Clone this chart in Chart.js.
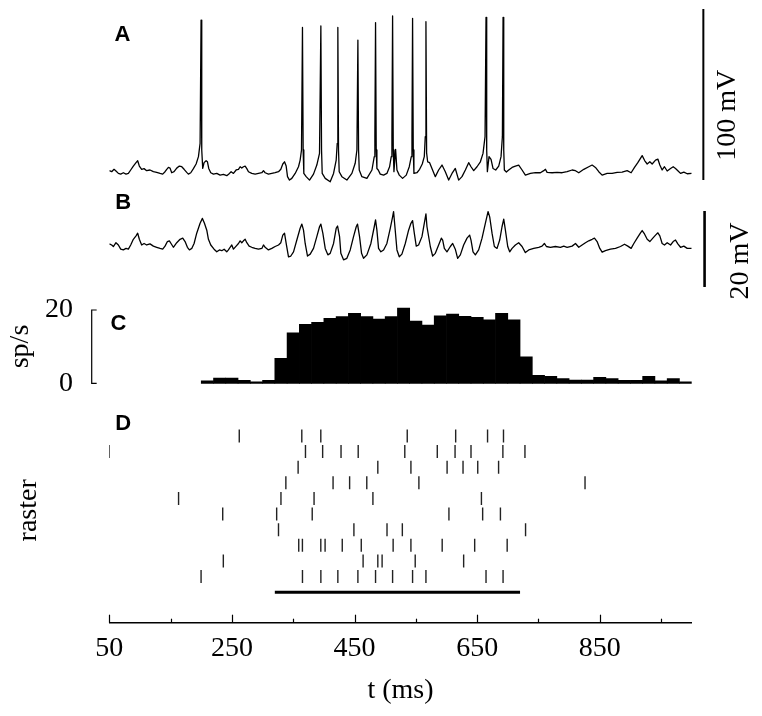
<!DOCTYPE html>
<html>
<head>
<meta charset="utf-8">
<script src="https://cdn.jsdelivr.net/npm/chart.js@4.4.1/dist/chart.umd.min.js"></script>
<style>
  body { margin: 0; background: #fff; }
  canvas { display: block; }
</style>
</head>
<body>
<canvas id="chart" width="762" height="716"></canvas>
<script>
// time axis (ms)
const xTicks = [50, 150, 250, 350, 450, 550, 650, 750, 850, 950];
const xLabels = [50, 250, 450, 650, 850];

// A: membrane potential with spikes
const aTime = [50.1, 53.9, 57.7, 60.9, 64.8, 68.6, 72.9, 77.3, 81.1, 84.9,
  89.2, 93.6, 96.3, 99.0, 102.8, 106.7, 111.0, 116.4, 121.9, 127.3,
  132.8, 137.1, 140.9, 143.7, 146.4, 149.1, 151.8, 155.6, 160.0, 164.3,
  168.2, 172.0, 176.3, 179.0, 182.9, 187.2, 191.6, 195.4, 198.1, 199.7,
  200.8, 202.4, 204.6, 207.9, 210.1, 212.2, 215.5, 219.9, 225.3, 230.7,
  236.2, 241.6, 246.0, 248.7, 252.5, 256.9, 260.7, 263.4, 266.1, 268.8,
  271.6, 274.3, 277.0, 282.4, 287.9, 293.3, 298.8, 301.5, 304.2, 309.6,
  315.1, 320.5, 326.0, 329.8, 333.0, 335.8, 338.5, 340.7, 343.9, 347.7,
  353.2, 358.6, 361.3, 363.5, 365.1, 366.2, 367.3, 371.1, 376.6, 383.1,
  388.5, 392.9, 395.1, 396.2, 397.3, 402.2, 410.3, 415.8, 420.1, 421.8,
  422.8, 423.9, 425.0, 429.4, 437.5, 445.7, 451.1, 453.9, 455.5, 456.6,
  457.7, 462.0, 470.2, 478.4, 482.2, 483.2, 484.3, 485.4, 486.5, 488.7,
  492.0, 497.4, 502.8, 507.2, 509.9, 511.0, 512.1, 513.2, 514.3, 517.0,
  519.2, 523.0, 528.4, 534.4, 539.3, 542.6, 543.7, 544.7, 545.8, 546.9,
  551.8, 556.2, 560.5, 563.8, 565.4, 566.5, 567.6, 569.3, 572.5, 576.3,
  581.8, 587.2, 592.7, 598.1, 603.6, 609.0, 614.4, 619.9, 625.3, 630.8,
  636.2, 640.0, 644.4, 649.8, 655.3, 659.6, 662.9, 664.5, 665.6, 666.7,
  669.4, 672.7, 675.9, 680.3, 685.2, 689.0, 691.2, 692.3, 693.4, 694.4,
  697.7, 701.5, 707.0, 712.4, 717.8, 723.3, 728.7, 736.9, 745.1, 753.2,
  758.7, 761.4, 764.1, 772.3, 780.4, 788.6, 796.8, 804.9, 810.4, 815.8,
  824.0, 832.1, 837.6, 843.0, 848.4, 853.9, 862.1, 870.2, 878.4, 886.5,
  894.7, 901.2, 906.7, 912.1, 919.2, 923.5, 927.4, 931.7, 935.5, 941.0,
  944.8, 948.0, 951.8, 955.6, 960.0, 965.5, 969.8, 973.6, 977.4, 981.8,
  987.2, 992.7, 1000.0];
const aVolt = [-65.4, -66.0, -64.6, -65.6, -67.0, -67.4, -66.6, -67.4, -67.0, -65.0,
  -62.7, -60.7, -59.6, -62.7, -64.6, -64.2, -65.4, -65.0, -66.0, -66.4,
  -67.0, -67.4, -66.0, -64.6, -63.5, -63.9, -66.6, -66.0, -63.9, -62.7,
  -63.1, -64.6, -66.4, -67.4, -66.6, -64.2, -61.5, -57.2, -49.4, 22.7,
  -53.3, -64.1, -60.7, -59.6, -60.2, -64.1, -66.6, -67.4, -67.0, -68.0,
  -67.6, -68.3, -67.0, -66.0, -67.0, -65.0, -64.6, -63.1, -63.9, -63.1,
  -62.7, -64.2, -66.0, -67.0, -67.4, -67.0, -66.6, -65.4, -66.6, -67.4,
  -67.0, -66.6, -66.0, -64.6, -61.5, -60.2, -62.7, -68.9, -70.9, -69.9,
  -67.0, -63.1, -59.2, -53.3, 18.4, -53.3, -67.0, -68.9, -70.9, -67.4,
  -62.1, -55.3, 19.2, -53.3, -67.0, -69.9, -71.9, -67.0, -59.2, -49.4,
  18.4, -53.3, -66.0, -68.9, -70.9, -67.0, -61.1, -53.3, 11.0, -53.3,
  -65.0, -68.9, -69.9, -65.0, -57.2, -45.5, 21.2, -53.3, -64.1, -65.0,
  -67.4, -68.0, -67.0, -63.1, -57.2, -45.5, 25.1, -53.3, -66.0, -52.9,
  -65.0, -68.0, -69.9, -68.0, -63.1, -57.2, -45.5, 23.7, -53.3, -67.0,
  -66.6, -64.6, -61.5, -57.2, -45.5, 21.7, -55.0, -60.2, -60.7, -64.1,
  -68.9, -65.0, -62.1, -66.0, -70.9, -67.0, -64.1, -70.9, -68.9, -65.0,
  -60.7, -63.1, -65.4, -63.1, -60.2, -55.3, -45.5, 24.3, -53.3, -66.0,
  -57.2, -58.8, -64.1, -65.0, -62.7, -57.2, -45.5, 24.3, -53.3, -65.0,
  -66.2, -65.0, -63.5, -62.7, -62.1, -65.0, -68.0, -67.0, -66.6, -66.6,
  -65.4, -64.6, -66.4, -66.6, -66.4, -66.6, -66.0, -65.0, -65.4, -66.6,
  -64.6, -63.1, -62.1, -63.5, -66.0, -68.0, -67.0, -67.0, -66.4, -66.2,
  -65.4, -66.6, -63.5, -60.7, -56.6, -59.6, -61.5, -60.2, -61.5, -59.2,
  -58.6, -62.1, -65.0, -63.1, -65.6, -64.1, -63.1, -64.1, -65.4, -67.0,
  -66.2, -67.2, -67.0];

// B: subthreshold potential
const bTime = [50.1, 53.9, 56.6, 60.9, 64.8, 68.6, 72.9, 77.3, 81.1, 84.9,
  89.2, 93.6, 96.3, 99.0, 102.8, 106.7, 111.0, 116.4, 121.9, 127.3,
  132.8, 137.1, 140.9, 144.8, 148.0, 150.7, 154.5, 160.0, 165.4, 169.8,
  173.6, 177.4, 180.7, 184.5, 188.3, 192.6, 198.1, 201.9, 205.2, 209.0,
  211.7, 215.5, 220.9, 225.3, 229.6, 233.5, 237.3, 241.6, 244.3, 247.1,
  249.8, 252.5, 256.9, 260.7, 263.4, 266.1, 268.8, 271.6, 274.3, 278.1,
  282.4, 287.9, 293.3, 298.8, 301.5, 304.2, 309.6, 315.1, 320.5, 326.0,
  329.8, 333.0, 335.8, 338.5, 342.3, 346.1, 350.5, 355.9, 361.3, 364.1,
  366.8, 369.5, 373.3, 377.7, 383.1, 388.5, 392.9, 395.1, 398.3, 402.2,
  406.5, 410.3, 415.8, 420.1, 422.3, 425.6, 427.7, 432.1, 437.5, 443.0,
  448.4, 452.8, 454.9, 458.2, 461.5, 464.7, 470.2, 476.7, 482.2, 484.3,
  486.5, 489.2, 493.0, 497.4, 502.8, 508.3, 512.1, 513.7, 515.9, 519.2,
  523.0, 527.3, 532.8, 538.2, 542.0, 544.7, 547.5, 550.7, 554.5, 560.0,
  563.8, 566.5, 568.2, 573.6, 577.4, 581.8, 587.2, 591.6, 593.8, 596.5,
  600.8, 606.3, 610.1, 614.4, 618.2, 622.6, 628.0, 633.5, 637.8, 640.0,
  643.3, 647.1, 652.5, 658.0, 663.4, 667.8, 670.5, 674.3, 678.1, 682.5,
  686.8, 690.6, 693.4, 696.1, 699.9, 703.1, 707.0, 712.4, 717.8, 723.3,
  728.7, 734.2, 742.3, 750.5, 755.9, 759.7, 763.0, 769.5, 777.7, 785.9,
  791.3, 796.8, 804.9, 810.4, 815.8, 821.2, 826.7, 832.1, 837.6, 841.4,
  845.7, 850.1, 853.9, 859.3, 867.5, 875.7, 883.8, 890.4, 895.8, 901.2,
  905.6, 911.0, 916.5, 919.2, 923.0, 927.4, 931.7, 936.6, 941.0, 944.8,
  948.0, 951.8, 955.6, 960.0, 965.5, 969.8, 973.6, 977.4, 981.8, 987.2,
  992.7, 1000.0];
const bVolt = [-64.7, -65.0, -65.4, -64.4, -65.0, -66.1, -66.3, -65.9, -66.1, -65.0,
  -63.5, -62.6, -61.9, -63.5, -65.0, -64.6, -65.0, -64.7, -65.3, -65.6,
  -65.9, -66.1, -65.3, -64.1, -63.9, -64.6, -65.6, -64.4, -63.5, -63.2,
  -64.1, -65.6, -66.3, -65.9, -64.6, -61.9, -59.3, -58.0, -59.3, -61.1,
  -63.5, -65.0, -66.1, -66.8, -66.3, -66.5, -66.1, -66.8, -66.3, -65.6,
  -65.0, -66.1, -65.3, -64.6, -63.9, -64.4, -63.9, -63.5, -64.4, -65.3,
  -65.6, -65.9, -66.1, -65.9, -65.0, -65.6, -66.3, -65.9, -65.4, -65.0,
  -64.4, -62.4, -61.9, -64.6, -68.1, -67.9, -66.8, -63.7, -60.6, -59.5,
  -61.1, -64.6, -67.9, -67.4, -65.9, -62.8, -60.2, -59.5, -61.9, -65.9,
  -67.6, -67.2, -64.6, -60.6, -60.0, -62.8, -67.2, -68.9, -68.5, -66.3,
  -62.8, -60.2, -59.5, -62.8, -67.2, -68.5, -67.6, -64.6, -60.2, -58.4,
  -61.1, -65.9, -66.8, -66.3, -64.6, -60.6, -57.6, -56.2, -60.2, -66.3,
  -68.1, -67.4, -64.6, -61.1, -59.3, -58.6, -61.9, -65.3, -65.0, -62.8,
  -59.3, -56.8, -60.2, -65.4, -67.9, -67.2, -65.0, -63.2, -63.7, -65.9,
  -66.8, -65.4, -64.6, -66.1, -68.5, -67.6, -65.0, -63.2, -62.4, -63.7,
  -66.8, -67.6, -66.3, -63.2, -59.3, -56.2, -57.6, -61.9, -65.4, -65.9,
  -63.7, -60.2, -58.2, -61.1, -65.4, -66.8, -65.9, -65.0, -64.4, -65.4,
  -67.0, -66.3, -65.9, -65.6, -65.3, -64.6, -65.4, -65.6, -65.4, -65.6,
  -65.3, -65.6, -65.3, -64.6, -65.6, -65.0, -64.4, -63.9, -63.5, -63.2,
  -64.1, -65.9, -66.9, -66.5, -66.1, -65.9, -65.4, -64.8, -65.3, -65.9,
  -64.6, -63.2, -61.8, -61.2, -62.1, -63.5, -64.1, -63.2, -62.4, -61.8,
  -62.6, -64.6, -65.0, -64.4, -65.0, -64.1, -63.7, -64.7, -65.6, -65.3,
  -65.9, -65.9];

// C: firing rate, 20 ms bins (start of bin)
const binStart = [200, 220, 240, 260, 280, 300, 320, 340, 360, 380,
  400, 420, 440, 460, 480, 500, 520, 540, 560, 580,
  600, 620, 640, 660, 680, 700, 720, 740, 760, 780,
  800, 820, 840, 860, 880, 900, 920, 940, 960, 980];
const rate = [0.7, 1.4, 1.4, 0.8, 0.4, 0.8, 6.8, 13.8, 16.1, 16.6,
  17.7, 18.2, 19.1, 18.2, 17.5, 18.2, 20.5, 17.0, 15.9, 18.4,
  18.9, 18.3, 18.0, 17.3, 19.1, 17.3, 7.2, 2.2, 1.9, 1.3,
  0.9, 0.9, 1.6, 1.3, 0.8, 0.8, 1.9, 0.7, 1.3, 0.4];

// D: spike times per trial
const raster = [
  [262, 364, 395, 536, 615, 667, 693],
  [50, 370, 398, 428, 456, 532, 585, 614, 640, 692, 728],
  [358, 488, 542, 601, 627, 651, 685],
  [338, 415, 442, 470, 555, 826],
  [163, 330, 384, 480, 657],
  [235, 323, 381, 604, 659, 688],
  [326, 449, 503, 528, 729],
  [359, 365, 395, 402, 430, 461, 513, 542, 593, 646, 699],
  [236, 464, 488, 495, 549, 628],
  [199.7, 365.1, 395.1, 422.8, 455.5, 484.3, 512.1, 544.7, 566.5, 664.5, 692.3]
];
const stimulus = [320, 720];

const serif = '"Liberation Serif", "Times New Roman", serif';
const sans = '"Liberation Sans", Arial, sans-serif';
const plotLeft = 109.3;

function pairs(xs, ys) {
  return xs.map((t, i) => ({ x: t, y: ys[i] }));
}

const rasterPoints = [];
raster.forEach((row, i) => row.forEach(t => rasterPoints.push({ x: t, y: i + 1 })));

// scale bars, bracket, letters and tick marks
const decor = {
  id: 'decor',
  afterDraw(chart) {
    const { ctx, chartArea, scales } = chart;
    const x = scales.x, yA = scales.yA, yB = scales.yB, yC = scales.yC, yD = scales.yD;
    ctx.save();
    ctx.strokeStyle = '#000';
    ctx.fillStyle = '#000';

    // ticks pointing up from the time axis
    ctx.lineWidth = 1.2;
    xTicks.forEach(v => {
      const px = Math.round(x.getPixelForValue(v)) + 0.5;
      const len = xLabels.includes(v) ? 8 : 4;
      ctx.beginPath();
      ctx.moveTo(px, chartArea.bottom);
      ctx.lineTo(px, chartArea.bottom - len);
      ctx.stroke();
    });

    // 100 mV bar
    ctx.lineWidth = 2;
    let bx = x.getPixelForValue(1019);
    ctx.beginPath();
    ctx.moveTo(bx, yA.getPixelForValue(-70.85));
    ctx.lineTo(bx, yA.getPixelForValue(-70.85 + 100));
    ctx.stroke();

    // 20 mV bar
    ctx.lineWidth = 2.6;
    bx = x.getPixelForValue(1021);
    ctx.beginPath();
    ctx.moveTo(bx, yB.getPixelForValue(-76.05));
    ctx.lineTo(bx, yB.getPixelForValue(-76.05 + 20));
    ctx.stroke();

    // rate bracket
    ctx.lineWidth = 1.2;
    const k0 = x.getPixelForValue(21.3), k1 = x.getPixelForValue(29.4);
    ctx.beginPath();
    ctx.moveTo(k1, yC.getPixelForValue(20));
    ctx.lineTo(k0, yC.getPixelForValue(20));
    ctx.lineTo(k0, yC.getPixelForValue(0));
    ctx.lineTo(k1, yC.getPixelForValue(0));
    ctx.stroke();

    ctx.font = '28px ' + serif;
    ctx.textAlign = 'right';
    ctx.textBaseline = 'middle';
    ctx.fillText('20', x.getPixelForValue(-9.3), yC.getPixelForValue(20));
    ctx.fillText('0', x.getPixelForValue(-9.3), yC.getPixelForValue(0));

    // scale bar labels
    ctx.textAlign = 'center';
    const vtext = (txt, px, py) => {
      ctx.save();
      ctx.translate(px, py);
      ctx.rotate(-Math.PI / 2);
      ctx.fillText(txt, 0, 0);
      ctx.restore();
    };
    vtext('100 mV', x.getPixelForValue(1058), yA.getPixelForValue(-33));
    vtext('20 mV', x.getPixelForValue(1079.6), yB.getPixelForValue(-69.2));

    // panel letters
    ctx.font = 'bold 22px ' + sans;
    ctx.fillText('A', x.getPixelForValue(71.5), yA.getPixelForValue(13.9));
    ctx.fillText('B', x.getPixelForValue(72.5), yB.getPixelForValue(-53.9));
    ctx.fillText('C', x.getPixelForValue(64.8), yC.getPixelForValue(16.3));
    ctx.fillText('D', x.getPixelForValue(72.5), yD.getPixelForValue(0.2));
    ctx.restore();
  }
};

const leftAxis = (weight, stackWeight, min, max, extra) => Object.assign({
  type: 'linear',
  position: 'left',
  stack: 'panels',
  weight: weight,
  stackWeight: stackWeight,
  min: min,
  max: max,
  ticks: { display: false },
  grid: { display: false },
  border: { display: false },
  afterFit: s => { s.width = plotLeft; }
}, extra || {});

new Chart(document.getElementById('chart'), {
  type: 'line',
  data: {
    datasets: [
      {
        data: pairs(aTime, aVolt),
        yAxisID: 'yA',
        borderColor: '#000',
        borderWidth: 1.3,
        borderJoinStyle: 'round',
        pointRadius: 0,
        tension: 0
      },
      {
        data: pairs(bTime, bVolt),
        yAxisID: 'yB',
        borderColor: '#000',
        borderWidth: 1.3,
        borderJoinStyle: 'round',
        pointRadius: 0,
        tension: 0
      },
      {
        type: 'bar',
        data: pairs(binStart.map(t => t + 10), rate),
        yAxisID: 'yC',
        backgroundColor: '#000',
        borderWidth: 0,
        barPercentage: 1,
        categoryPercentage: 1
      },
      {
        type: 'scatter',
        data: rasterPoints,
        yAxisID: 'yD',
        pointStyle: 'line',
        rotation: 90,
        radius: 6.5,
        borderColor: '#222',
        borderWidth: 1.4
      },
      {
        data: stimulus.map(t => ({ x: t, y: 11 })),
        yAxisID: 'yD',
        borderColor: '#000',
        borderWidth: 3,
        pointRadius: 0
      }
    ]
  },
  options: {
    responsive: false,
    animation: false,
    devicePixelRatio: 1,
    events: [],
    layout: { padding: { left: 0, right: 70.3, top: 8, bottom: 0 } },
    plugins: { legend: { display: false }, tooltip: { enabled: false } },
    scales: {
      x: {
        type: 'linear',
        position: 'bottom',
        offset: false,
        min: 50,
        max: 1000,
        afterBuildTicks: s => { s.ticks = xTicks.map(v => ({ value: v })); },
        afterFit: s => { s.height = 93.3; },
        ticks: {
          autoSkip: false,
          maxRotation: 0,
          padding: 1,
          color: '#000',
          font: { family: serif, size: 28 },
          callback: v => xLabels.includes(v) ? String(v) : ''
        },
        grid: { display: false, offset: false },
        border: { display: true, color: '#000', width: 1.5 },
        title: {
          display: true,
          text: 't (ms)',
          color: '#000',
          font: { family: serif, size: 28 },
          padding: { top: 0, bottom: 9 }
        }
      },
      yA: leftAxis(4, 182, -76.7, 29.74),
      yB: leftAxis(3, 105, -78.16, -50.53),
      yC: leftAxis(2, 103, -4.01, 24.09, {
        title: { display: true, text: 'sp/s', color: '#000', font: { family: serif, size: 28 }, padding: { top: 4, bottom: 0 } }
      }),
      yD: leftAxis(1, 224.7, -1.43, 12.95, {
        reverse: true,
        title: { display: true, text: 'raster', color: '#000', font: { family: serif, size: 28 }, padding: { top: 12, bottom: 0 } }
      })
    }
  },
  plugins: [decor]
});
</script>
</body>
</html>
